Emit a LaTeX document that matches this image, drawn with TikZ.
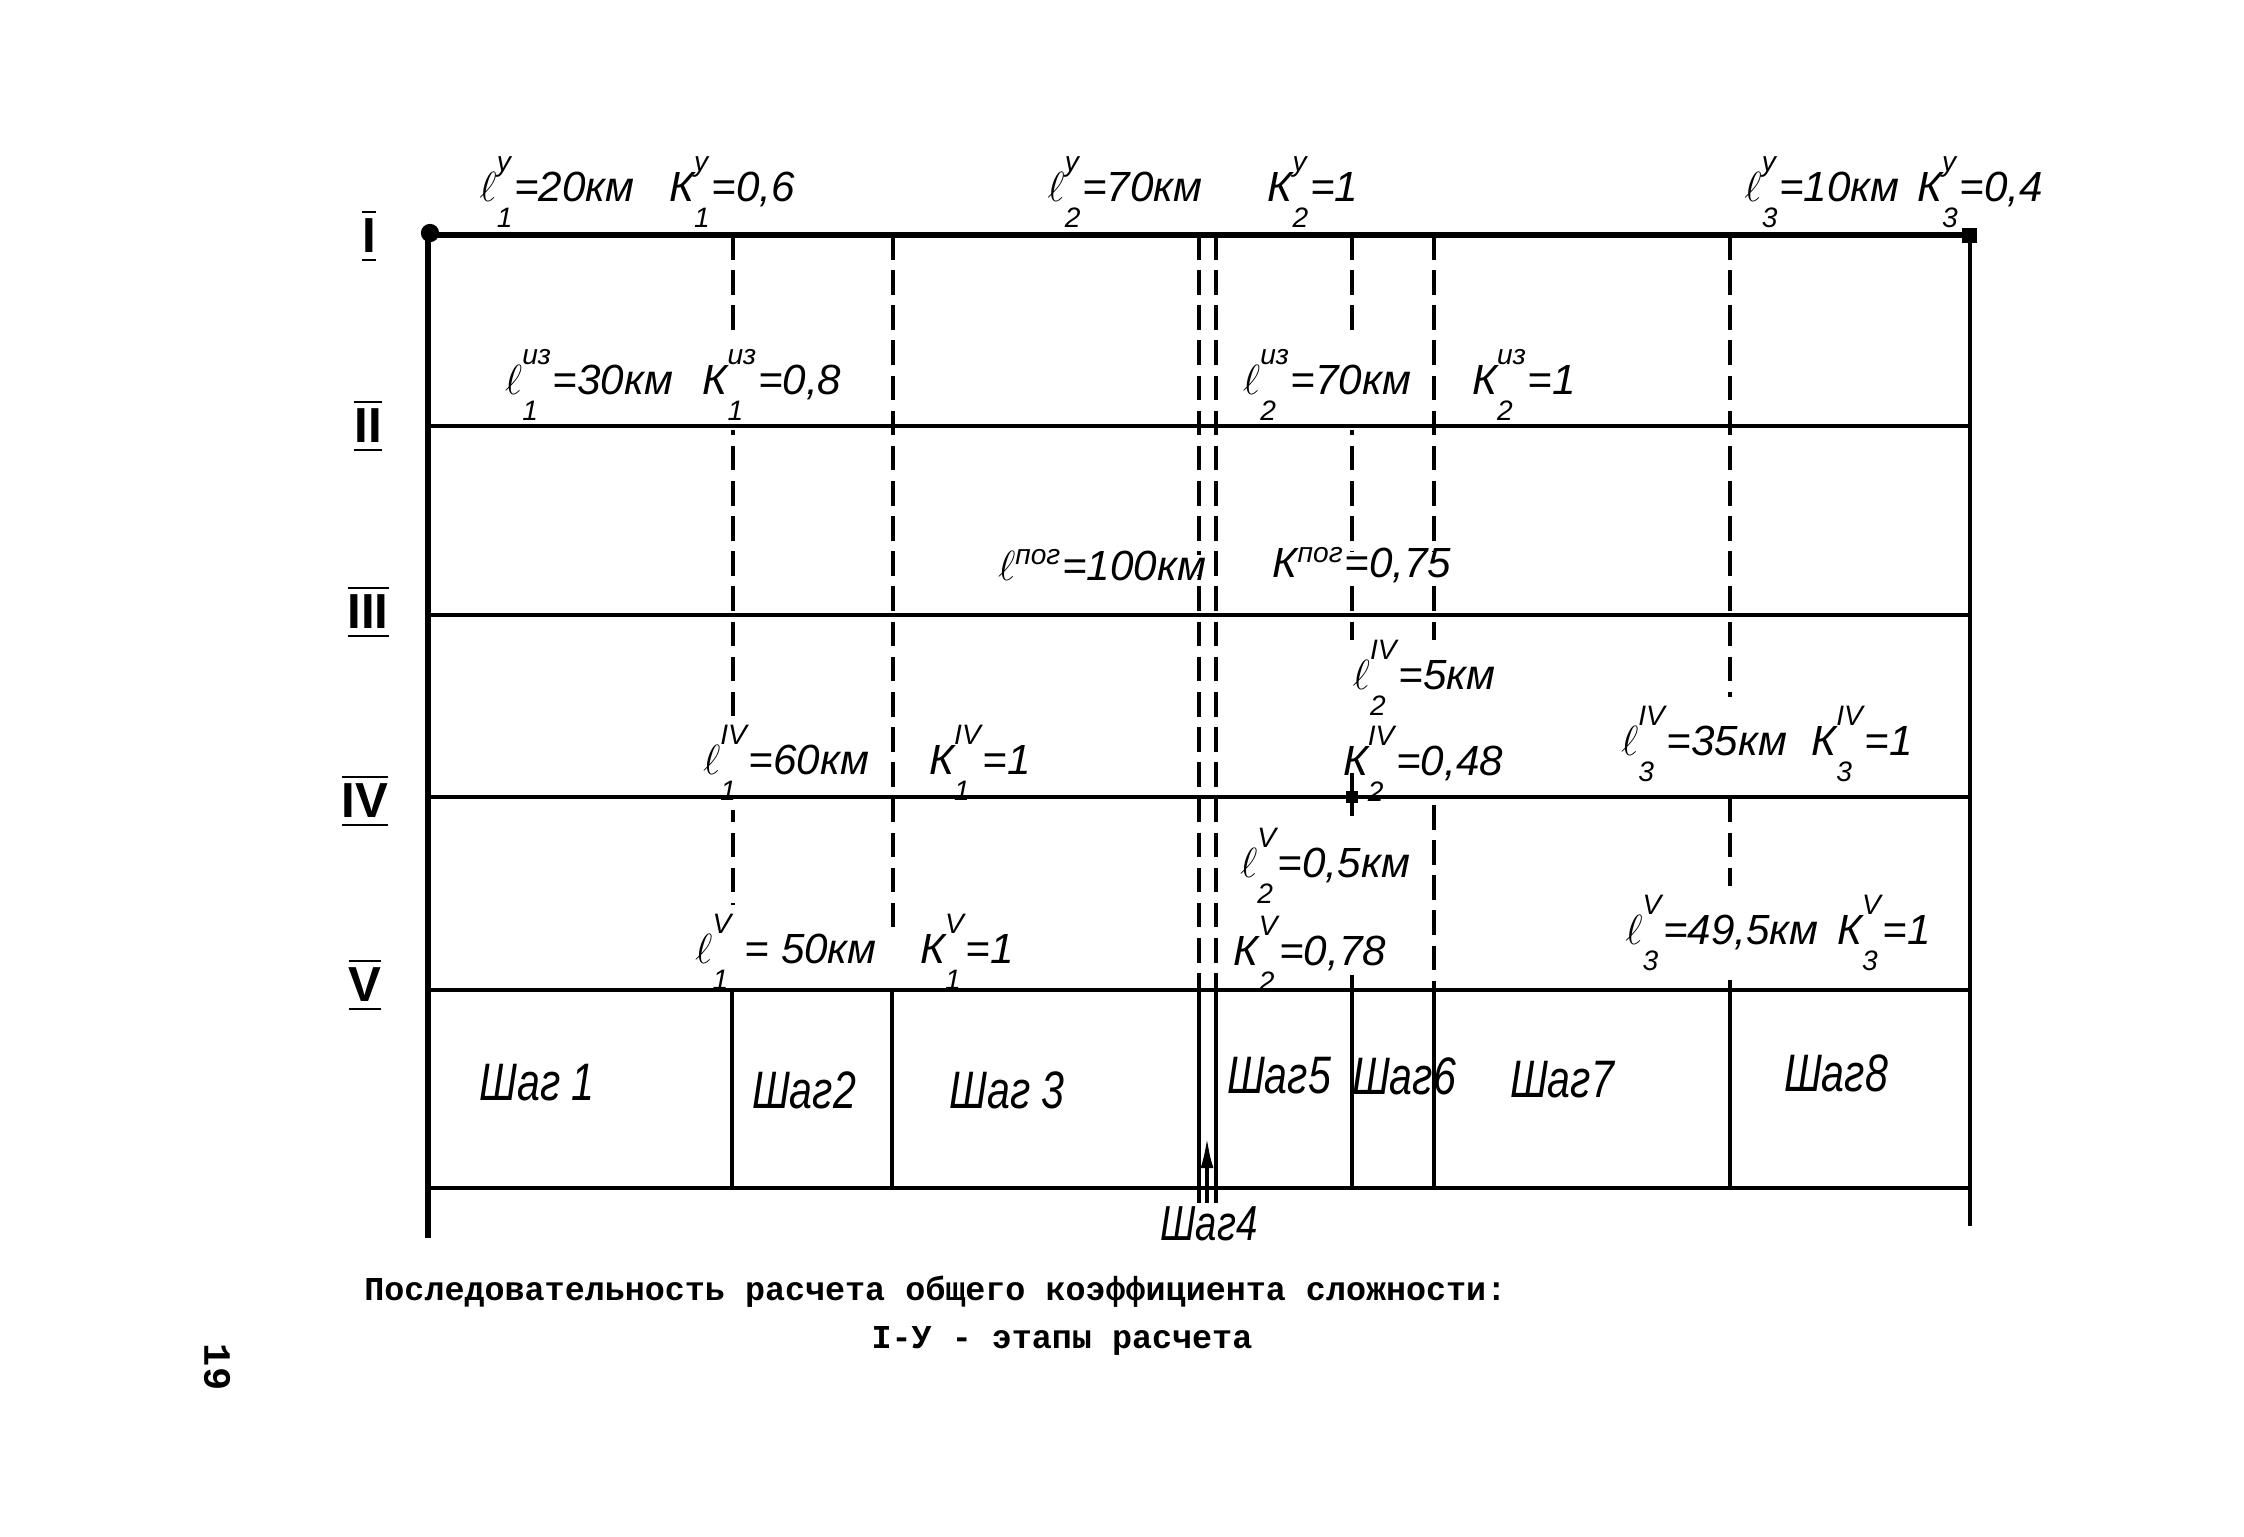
\documentclass[tikz,border=0pt]{standalone}
\usepackage{fontspec}
\usepackage{amsmath}
\usetikzlibrary{arrows.meta}
\newfontfamily\drawfont{Liberation Sans}
\newfontfamily\stepfont[FakeStretch=0.78]{Liberation Sans}
\newfontfamily\typefont{Liberation Mono}
% длина и коэффициент с индексами
\newcommand{\Ln}[2]{$\ell^{\text{\strut#1}}_{\text{\strut#2}}$}
\newcommand{\Kn}[2]{К$^{\text{\strut#1}}_{\text{\strut#2}}$}
\begin{document}
\begin{tikzpicture}[x=0.1mm, y=-0.1mm, >={Latex[length=3mm,width=1.3mm]},
    gridline/.style={line width=1.1pt},
    divline/.style={line width=0.9pt},
    dashline/.style={line width=0.9pt, dash pattern=on 7pt off 3pt},
    lab/.style={font=\drawfont\itshape\fontsize{12}{14}\selectfont, fill=white, inner xsep=1pt, inner ysep=-1.5pt},
    steplab/.style={font=\stepfont\itshape\fontsize{15}{17}\selectfont, inner sep=1pt},
    stagelab/.style={font=\drawfont\bfseries\fontsize{14}{16}\selectfont, inner sep=0pt}]
    \useasboundingbox (0,0) rectangle (2244,1536);

    % ==================== 1. ГРАНИЦЫ УЧАСТКОВ (штрихом) ====================
    \foreach \x/\yb in {733/990, 893/930, 1199/990, 1216/990, 1352/640, 1730/990}
        \draw[dashline] (\x,235) -- (\x,\yb);
    \draw[dashline] (1434,235) -- (1434,640);
    \draw[dashline] (1434,805) -- (1434,990);

    % ==================== 2. ДЛИНЫ И КОЭФФИЦИЕНТЫ ====================
    % этап I
    \node[lab] (l1y) at (557,190) {\Ln{у}{1}=20км};
    \node[lab] (k1y) at (732,190) {\Kn{у}{1}=0,6};
    \node[lab] (l2y) at (1125,190) {\Ln{у}{2}=70км};
    \node[lab] (k2y) at (1313,190) {\Kn{у}{2}=1};
    \node[lab] (l3y) at (1822,190) {\Ln{у}{3}=10км};
    \node[lab] (k3y) at (1980,190) {\Kn{у}{3}=0,4};
    % этап II
    \node[lab] (l1i) at (589,383) {\Ln{из}{1}=30км};
    \node[lab] (k1i) at (772,383) {\Kn{из}{1}=0,8};
    \node[lab] (l2i) at (1327,383) {\Ln{из}{2}=70км};
    \node[lab] (k2i) at (1524,383) {\Kn{из}{2}=1};
    % этап III
    \node[lab] (lp) at (1102,565) {$\ell^{\text{пог}}$=100км};
    \node[lab] (kp) at (1362,565) {К$^{\text{пог}}$=0,75};
    % этап IV
    \node[lab] (l1iv) at (786,763) {\Ln{IV}{1}=60км};
    \node[lab] (k1iv) at (980,763) {\Kn{IV}{1}=1};
    \node[lab, fill=none] (l2iv) at (1424,678) {\Ln{IV}{2}=5км};
    \node[lab, fill=none] (k2iv) at (1423,764) {\Kn{IV}{2}=0,48};
    \node[lab] (l3iv) at (1704,744) {\Ln{IV}{3}=35км};
    \node[lab] (k3iv) at (1862,744) {\Kn{IV}{3}=1};
    % этап V
    \node[lab] (l1v) at (786,952) {\Ln{V}{1} = 50км};
    \node[lab] (k1v) at (967,952) {\Kn{V}{1}=1};
    \node[lab, fill=none] (l2v) at (1325,866) {\Ln{V}{2}=0,5км};
    \node[lab, fill=none] (k2v) at (1310,954) {\Kn{V}{2}=0,78};
    \node[lab] (l3v) at (1722,933) {\Ln{V}{3}=49,5км};
    \node[lab] (k3v) at (1884,933) {\Kn{V}{3}=1};

    % ==================== 3. СЕТКА ЭТАПОВ ====================
    \draw[gridline, line width=1.5pt] (428,235) -- (1970,235);
    \foreach \y in {426,615,797,990,1188}
        \draw[gridline] (428,\y) -- (1970,\y);
    \draw[gridline, line width=1.5pt] (428,232) -- (428,1238);
    \draw[gridline, line width=1.4pt] (1970,235) -- (1970,1226);

    % сплошные границы шагов
    \foreach \x in {732,892,1434,1730}
        \draw[divline] (\x,990) -- (\x,1188);
    \draw[divline] (1352,975) -- (1352,1188);
    \draw[divline] (1199,990) -- (1199,1203);
    \draw[divline] (1216,990) -- (1216,1203);

    % 4. Точки
    \fill (430,233) circle (2.6pt);
    \fill (1962,228) rectangle (1977,243);
    \fill (1346,791) rectangle (1358,803);
    \draw[divline] (1352,773) -- (1352,816);

    % 5. Номера этапов
    \node[stagelab] (st1) at (369,236) {$\overline{\underline{\text{I}}}$};
    \node[stagelab] (st2) at (368,426) {$\overline{\underline{\text{II}}}$};
    \node[stagelab] (st3) at (368,612) {$\overline{\underline{\text{III}}}$};
    \node[stagelab] (st4) at (365,801) {$\overline{\underline{\text{IV}}}$};
    \node[stagelab] (st5) at (365,985) {$\overline{\underline{\text{V}}}$};

    % ==================== 6. ШАГИ ====================
    \node[steplab] (s1) at (537,1083) {Шаг 1};
    \node[steplab] (s2) at (804,1090) {Шаг2};
    \node[steplab] (s3) at (1007,1090) {Шаг 3};
    \node[steplab] (s5) at (1279,1076) {Шаг5};
    \node[steplab] (s6) at (1404,1076) {Шаг6};
    \node[steplab] (s7) at (1562,1080) {Шаг7};
    \node[steplab] (s8) at (1836,1073) {Шаг8};
    \node[steplab, font=\stepfont\itshape\fontsize{14}{16}\selectfont] (s4) at (1209,1224) {Шаг4};
    \coordinate (s4tip) at (1207,1138);
    \draw[->, divline] (s4tip |- s4.north) -- (s4tip);

    % 7. Подпись
    \node[font=\typefont\bfseries\fontsize{9.5}{11}\selectfont, anchor=west] (cap1) at (352,1292)
        {Последовательность расчета общего коэффициента сложности:};
    \node[font=\typefont\bfseries\fontsize{9.5}{11}\selectfont] (cap2) at (1062,1341)
        {I-У - этапы расчета};
    \node[font=\typefont\bfseries\fontsize{11}{13}\selectfont, rotate=-90] (pnum) at (217,1367) {19};
\end{tikzpicture}
\end{document}
